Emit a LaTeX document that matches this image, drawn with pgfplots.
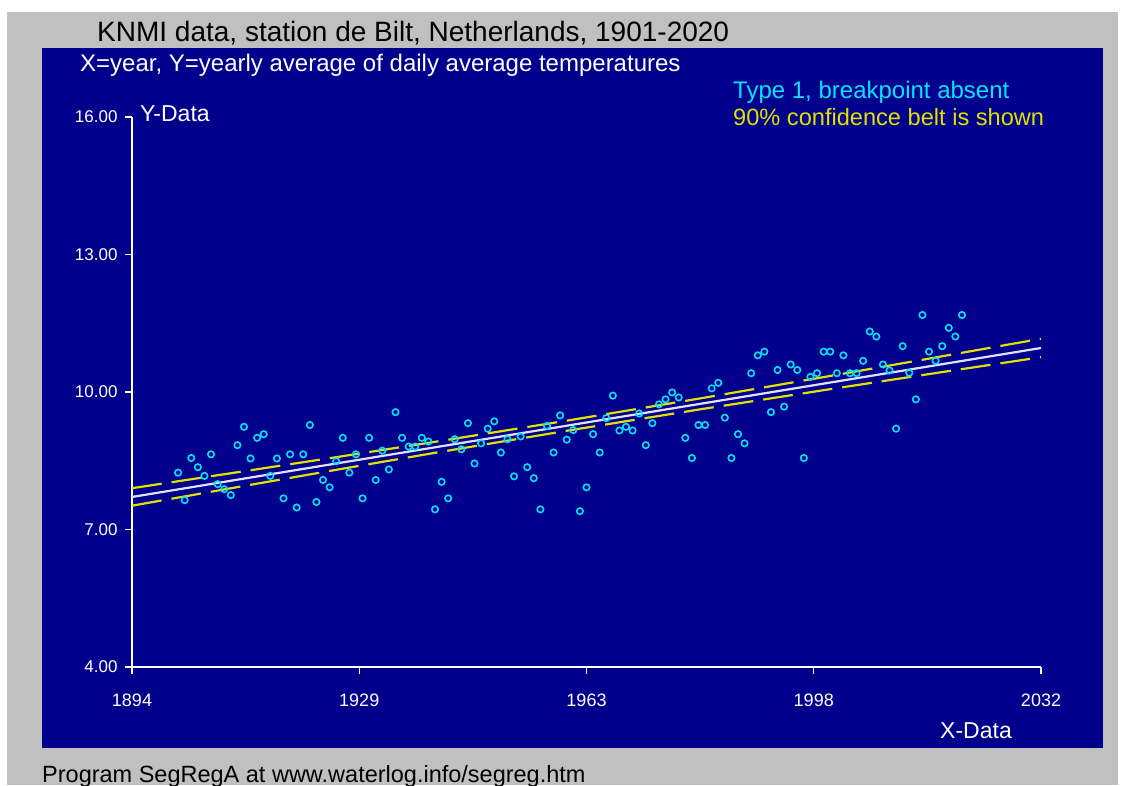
\documentclass[border=0pt]{standalone}
\usepackage{fontspec}
\setmainfont{Liberation Sans}
\usepackage{pgfplots}
\pgfplotsset{compat=1.18}
\definecolor{navybg}{RGB}{0,0,140}
\definecolor{graybg}{RGB}{192,192,192}
\definecolor{ptcyan}{RGB}{0,225,255}
\definecolor{txtcyan}{RGB}{0,230,255}
\definecolor{belt}{RGB}{225,225,0}
\definecolor{fitline}{RGB}{225,225,255}
\begin{document}
\begin{tikzpicture}[x=1pt,y=1pt]
\path[use as bounding box] (0,0) rectangle (1129,785);
\fill[white] (0,0) rectangle (1129,785);
\fill[graybg] (7,0) rectangle (1118,773);
\fill[navybg] (42,37) rectangle (1103,737);
\begin{axis}[
  at={(132pt,118pt)}, anchor=south west,
  scale only axis, width=909pt, height=550pt,
  xmin=1894, xmax=2032, ymin=4, ymax=16,
  axis x line*=bottom, axis y line*=left,
  axis line style={white, line width=1.3pt},
  tick style={white, line width=1.3pt},
  tick align=outside, major tick length=7pt,
  xtick={1894,1928.5,1963,1997.5,2032},
  xticklabels={1894,1929,1963,1998,2032},
  ytick={4,7,10,13,16},
  yticklabels={4.00,7.00,10.00,13.00,16.00},
  xticklabel style={white, font=\fontsize{18}{20}\selectfont, yshift=-16pt},
  yticklabel style={white, font=\fontsize{17}{19}\selectfont, xshift=-4pt},
  clip=false,
]
\addplot[belt, line width=2.2pt, dash pattern=on 30pt off 10pt] coordinates {
(1894,7.901) (1910,8.249) (1925,8.578) (1940,8.913) (1960,9.374) (1980,9.854) (2000,10.350) (2015,10.729) (2032,11.161)};
\addplot[belt, line width=2.2pt, dash pattern=on 30pt off 10pt] coordinates {
(1894,7.519) (1910,7.925) (1925,8.302) (1940,8.673) (1960,9.154) (1980,9.616) (2000,10.062) (2015,10.391) (2032,10.759)};
\addplot[fitline, line width=2.2pt] coordinates {(1894,7.71) (2032,10.96)};
\addplot[only marks, mark=o, mark size=3.2pt, ptcyan, mark options={line width=1.6pt}] table {
x y
1901 8.24
1902 7.64
1903 8.56
1904 8.36
1905 8.17
1906 8.64
1907 7.99
1908 7.88
1909 7.75
1910 8.84
1911 9.24
1912 8.55
1913 9.00
1914 9.08
1915 8.17
1916 8.55
1917 7.68
1918 8.64
1919 7.48
1920 8.64
1921 9.28
1922 7.60
1923 8.08
1924 7.92
1925 8.49
1926 9.00
1927 8.24
1928 8.64
1929 7.68
1930 9.00
1931 8.08
1932 8.72
1933 8.31
1934 9.56
1935 9.00
1936 8.81
1937 8.81
1938 9.00
1939 8.92
1940 7.44
1941 8.04
1942 7.68
1943 8.97
1944 8.75
1945 9.32
1946 8.44
1947 8.88
1948 9.20
1949 9.36
1950 8.68
1951 8.97
1952 8.16
1953 9.03
1954 8.36
1955 8.12
1956 7.44
1957 9.26
1958 8.68
1959 9.49
1960 8.96
1961 9.17
1962 7.40
1963 7.92
1964 9.08
1965 8.68
1966 9.43
1967 9.92
1968 9.16
1969 9.24
1970 9.16
1971 9.53
1972 8.84
1973 9.32
1974 9.73
1975 9.84
1976 9.99
1977 9.88
1978 9.00
1979 8.56
1980 9.28
1981 9.28
1982 10.08
1983 10.20
1984 9.44
1985 8.56
1986 9.08
1987 8.88
1988 10.41
1989 10.80
1990 10.88
1991 9.56
1992 10.48
1993 9.68
1994 10.60
1995 10.48
1996 8.56
1997 10.33
1998 10.41
1999 10.88
2000 10.88
2001 10.41
2002 10.80
2003 10.41
2004 10.41
2005 10.68
2006 11.32
2007 11.21
2008 10.60
2009 10.47
2010 9.20
2011 11.00
2012 10.42
2013 9.84
2014 11.68
2015 10.88
2016 10.68
2017 11.00
2018 11.40
2019 11.21
2020 11.68
};
\end{axis}
\node[anchor=base west, inner sep=0pt, font=\fontsize{28}{30}\selectfont, text=black] at (97,743) {KNMI data, station de Bilt, Netherlands, 1901-2020};
\node[anchor=base west, inner sep=0pt, font=\fontsize{24}{26}\selectfont, text=white] at (80,713) {X=year, Y=yearly average of daily average temperatures};
\node[anchor=base west, inner sep=0pt, font=\fontsize{24}{26}\selectfont, text=txtcyan] at (733,686) {Type 1, breakpoint absent};
\node[anchor=base west, inner sep=0pt, font=\fontsize{23.6}{26}\selectfont, text=belt] at (733,659) {90\% confidence belt is shown};
\node[anchor=base west, inner sep=0pt, font=\fontsize{23}{25}\selectfont, text=white] at (140,663) {Y-Data};
\node[anchor=base west, inner sep=0pt, font=\fontsize{23}{25}\selectfont, text=white] at (940,47) {X-Data};
\node[anchor=base west, inner sep=0pt, font=\fontsize{23.5}{25}\selectfont, text=black] at (42,3) {Program SegRegA at www.waterlog.info/segreg.htm};
\end{tikzpicture}
\end{document}
